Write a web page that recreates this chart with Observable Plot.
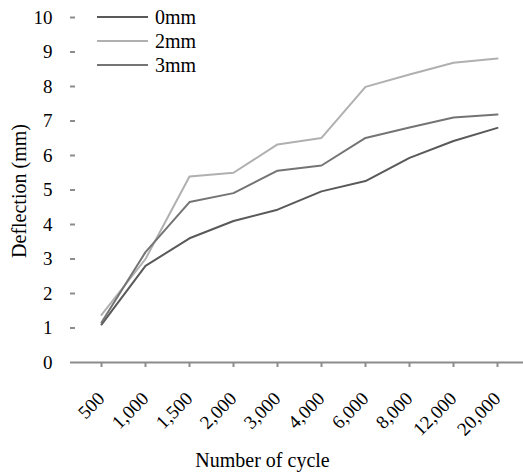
<!DOCTYPE html>
<html><head><meta charset="utf-8">
<script src="https://cdn.jsdelivr.net/npm/d3@7"></script>
<script src="https://cdn.jsdelivr.net/npm/@observablehq/plot@0.6"></script>
<style>
body{margin:0;background:#fff}
svg, svg text, svg g{font-family:"Liberation Serif","Times New Roman","DejaVu Serif",serif !important}
g[aria-label="y-axis tick label"] text{font-size:19px !important}
g[aria-label="x-axis tick label"] text{font-size:19px !important}
g.titles text{font-size:20px !important}
g.legend text{font-size:20px !important}
</style>
</head><body><div id="chart"></div>
<script>
const cycles = ["500","1,000","1,500","2,000","3,000","4,000","6,000","8,000","12,000","20,000"];
const series = ["0mm","2mm","3mm"];
const d0 = [1.10,2.80,3.60,4.10,4.43,4.96,5.26,5.93,6.42,6.80];
const d2 = [1.38,3.00,5.39,5.50,6.32,6.51,7.99,8.35,8.69,8.81];
const d3v = [1.16,3.20,4.65,4.91,5.56,5.71,6.51,6.81,7.10,7.19];
const yTicks = [0,1,2,3,4,5,6,7,8,9,10];
const colors = ["#595959","#b0b0b0","#747474"];

const rows = [];
[d0,d2,d3v].forEach((arr,si)=>arr.forEach((v,i)=>rows.push({cycle:cycles[i],series:series[si],v})));

const plot = Plot.plot({
  width: 523, height: 473,
  marginLeft: 75, marginRight: 0, marginTop: 17, marginBottom: 111,
  style: {fontSize: "19px", color: "#000", background: "#fff"},
  x: {type: "band", domain: cycles, padding: 0, align: 0.5},
  y: {domain: [0,10]},
  color: {domain: series, range: colors},
  marks: [
    Plot.ruleX([0], {frameAnchor:"left", stroke:"#8c8c8c", strokeWidth:2}),
    Plot.line(rows, {x:"cycle", y:"v", z:"series", stroke:"series", strokeWidth:2}),
    Plot.axisY(yTicks, {tickSize:5, tickPadding:18, stroke:"#8c8c8c", strokeWidth:2, label:null}),
    Plot.axisX({tickSize:5, tickRotate:-45, tickPadding:28, stroke:"#8c8c8c", strokeWidth:2, label:null}),
    Plot.ruleY([0], {stroke:"#8c8c8c", strokeWidth:2}),
    Plot.text(["Deflection (mm)"], {className:"titles", frameAnchor:"left", textAnchor:"middle", dx:-56, dy:1, rotate:-90, fill:"#000"}),
    Plot.text(["Number of cycle"], {className:"titles", frameAnchor:"bottom", lineAnchor:"middle", dy:98, dx:-37, fill:"#000"})
  ]
});
document.getElementById("chart").appendChild(plot);

// legend
const svg = d3.select(plot);
const lg = svg.append("g").attr("class","legend").attr("text-anchor","start");
series.forEach((s,i)=>{
  const y = 17 + i*24;
  lg.append("line").attr("x1",97).attr("x2",148).attr("y1",y).attr("y2",y).attr("stroke",colors[i]).attr("stroke-width",2);
  lg.append("text").attr("x",155).attr("y",y).attr("dy","0.33em").attr("fill","#000").text(s);
});
</script></body></html>
